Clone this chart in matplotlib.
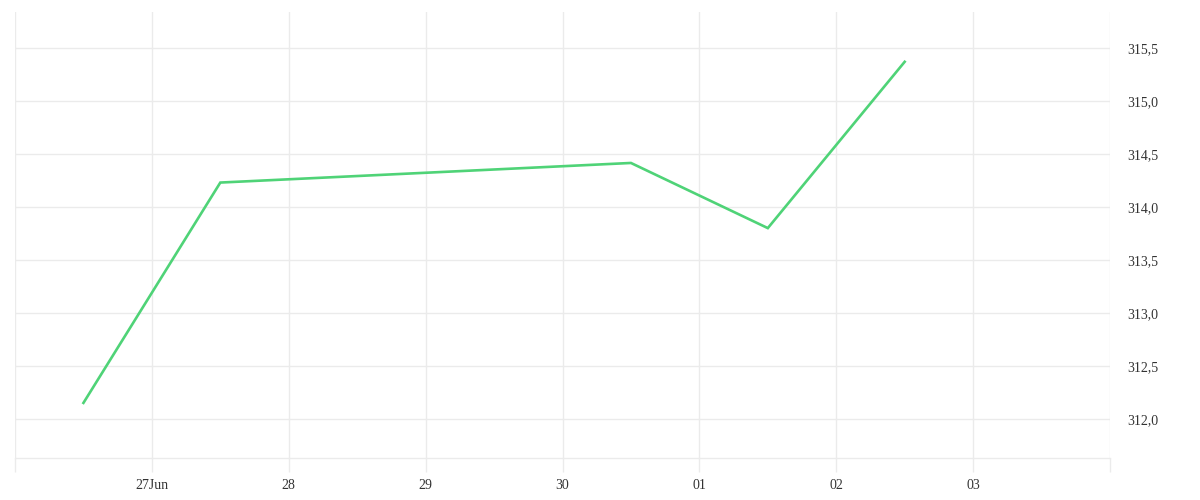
import matplotlib
matplotlib.use("Agg")
import matplotlib.pyplot as plt
import matplotlib.dates as mdates
import datetime as dt

# Data
times = [dt.datetime(2024, 6, 26, 12), dt.datetime(2024, 6, 27, 12),
         dt.datetime(2024, 6, 30, 12), dt.datetime(2024, 7, 1, 12),
         dt.datetime(2024, 7, 2, 12)]
values = [312.15, 314.23, 314.415, 313.80, 315.37]

x_ticks = [dt.datetime(2024, 6, 26) + dt.timedelta(days=i) for i in range(9)]
x_labels = ["", "27Jun", "28", "29", "30", "01", "02", "03", ""]
y_ticks = [312.0, 312.5, 313.0, 313.5, 314.0, 314.5, 315.0, 315.5]
y_labels = ["312,0", "312,5", "313,0", "313,5", "314,0", "314,5", "315,0", "315,5"]

grid_c = "#ebebeb"
text_c = "#333333"

plt.rcParams['font.family'] = ['Liberation Serif', 'DejaVu Serif']

fig = plt.figure(figsize=(12, 5), dpi=100)
ax = fig.add_axes([15/1200, 42/500, 1095/1200, 446/500])

ax.plot(times, values, color="#4fd377", lw=1.9, solid_joinstyle="miter")

ax.set_xlim(x_ticks[0], x_ticks[-1])
ax.set_ylim(311.63, 315.84)

ax.set_xticks(x_ticks)
ax.set_xticklabels(x_labels)
ax.set_yticks(y_ticks)
ax.set_yticklabels(y_labels)

ax.yaxis.tick_right()
ax.tick_params(axis="y", length=0, pad=12.5, labelsize=10, labelcolor=text_c)
ax.tick_params(axis="x", length=10, width=1, color=grid_c, pad=5, labelsize=10, labelcolor=text_c)

ax.grid(True, color=grid_c, lw=1)
ax.set_axisbelow(True)
for s in ["top", "left", "right"]:
    ax.spines[s].set_visible(False)
ax.spines["bottom"].set_color(grid_c)
ax.spines["bottom"].set_linewidth(1)

fig.savefig("out.png", dpi=100, facecolor="white")
